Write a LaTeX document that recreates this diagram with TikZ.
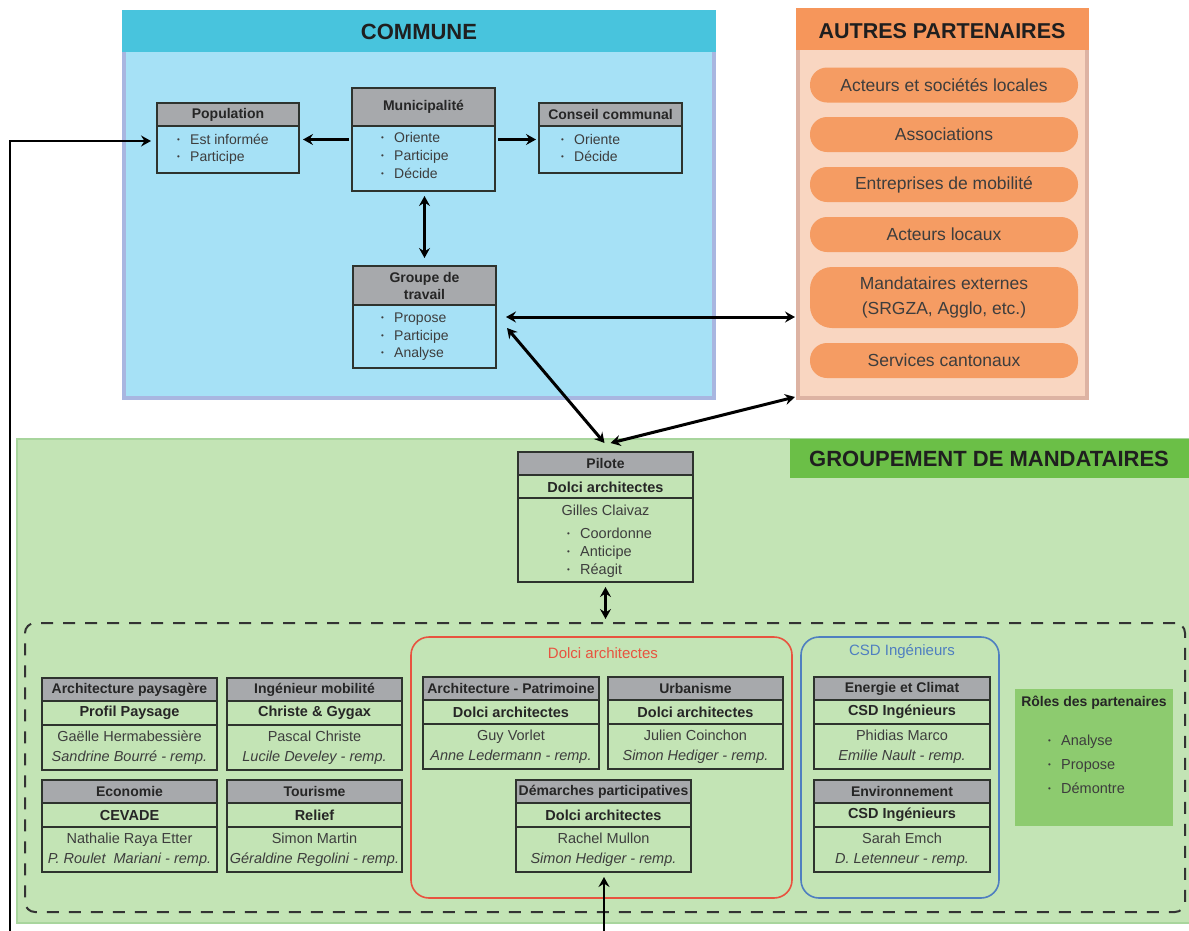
\documentclass[tikz,border=0pt]{standalone}
\usepackage{fontspec}
\setmainfont{Liberation Sans}
\usetikzlibrary{arrows.meta}
\definecolor{teal}{HTML}{48C4DD}
\definecolor{lblue}{HTML}{A6E1F6}
\definecolor{lav}{HTML}{A8B6E0}
\definecolor{orh}{HTML}{F6965B}
\definecolor{orp}{HTML}{F59C63}
\definecolor{peach}{HTML}{F9D6C1}
\definecolor{peachb}{HTML}{DDB3A3}
\definecolor{lgreen}{HTML}{C3E4B5}
\definecolor{greenb}{HTML}{A8D59D}
\definecolor{dgreen}{HTML}{6BBF47}
\definecolor{mgreen}{HTML}{8DCB6F}
\definecolor{hdrgray}{HTML}{A7A9AC}
\definecolor{txt}{HTML}{3D3D3D}
\definecolor{bline}{HTML}{2E332E}
\definecolor{redc}{HTML}{E8533F}
\definecolor{bluec}{HTML}{4F7FC0}
\newcommand{\bdot}{\makebox[13pt][l]{\raisebox{0.25ex}{\fontsize{8}{8}\selectfont\textbullet}}}
\tikzset{
  frame/.style={inner sep=0pt, outer sep=0pt},
  boxline/.style={draw=bline, line width=1.2pt},
  hdrtxt/.style={font=\fontsize{14}{17}\selectfont\bfseries, text=black!85, inner sep=0pt},
  bodytxt/.style={font=\fontsize{14.5}{20}\selectfont, text=txt, align=center, inner sep=0pt},
  bltxt/.style={font=\fontsize{14}{17}\selectfont, text=txt, inner sep=0pt, anchor=west, text height=10pt, text depth=3pt},
  pill/.style={fill=orp, rounded corners=17pt, minimum width=268pt, minimum height=35pt, inner sep=0pt, font=\fontsize{17.5}{22}\selectfont, text=txt, align=center},
  title/.style={font=\fontsize{22}{26}\selectfont\bfseries, text=black!88},
  arr/.style={line width=3pt, -{Stealth[length=10pt,width=11pt,inset=3.5pt]}},
  darr/.style={line width=3pt, {Stealth[length=10pt,width=11pt,inset=3.5pt]}-{Stealth[length=10pt,width=11pt,inset=3.5pt]}},
}
% person box: name, x, y, w, header, company, body
\newcommand{\pbox}[7]{%
  \node[frame, anchor=north west, minimum width=#4, minimum height=92] (#1) at (#2,#3) {};
  \fill[hdrgray] (#2,#3) rectangle ++(#4,23);
  \draw[boxline] (#2,#3) ++(0,23) -- ++(#4,0);
  \draw[boxline] (#2,#3) ++(0,47) -- ++(#4,0);
  \draw[boxline] (#1.north west) rectangle (#1.south east);
  \path (#2,#3) ++(#4/2,11.5) node[hdrtxt] {#5};
  \path (#2,#3) ++(#4/2,35) node[hdrtxt, font=\fontsize{14.5}{17}\selectfont\bfseries] {#6};
  \path (#2,#3) ++(#4/2,69.5) node[bodytxt] {#7};
}
% commune box: name, x, y, w, header height, height, title
\newcommand{\cbox}[7]{%
  \node[frame, anchor=north west, minimum width=#4, minimum height=#6] (#1) at (#2,#3) {};
  \fill[hdrgray] (#2,#3) rectangle ++(#4,#5);
  \draw[boxline] (#2,#3) ++(0,#5) -- ++(#4,0);
  \draw[boxline] (#1.north west) rectangle (#1.south east);
  \path (#2,#3) ++(#4/2,#5/2) node[hdrtxt, align=center] {#7};
}
\newcommand{\bitem}[4][14]{\node[bltxt, font=\fontsize{#1}{17}\selectfont] at (#2,#3) {\bdot#4};}
\begin{document}
\begin{tikzpicture}[x=1pt,y=-1pt]
\useasboundingbox (0,0) rectangle (1189,930);
\fill[white] (0,0) rectangle (1189,930);

% ---------- COMMUNE ----------
\node[frame, anchor=north west, minimum width=590, minimum height=386, fill=lblue, draw=lav, line width=4pt] (commune) at (124,12) {};
\fill[teal] (122,10) rectangle (716,52);
\node[title] (communeT) at (419,32) {COMMUNE};

\cbox{pop}{157}{103}{142}{23}{70}{Population}
\bitem{177}{141}{Est informée}
\bitem{177}{158}{Participe}

\cbox{mun}{352}{88}{143}{38}{103}{Municipalité}
\bitem{381}{139}{Oriente}
\bitem{381}{157}{Participe}
\bitem{381}{175}{Décide}

\cbox{con}{539}{103}{143}{23}{70}{Conseil communal}
\bitem{561}{141}{Oriente}
\bitem{561}{158}{Décide}

\cbox{grp}{353}{266}{143}{39}{102}{Groupe de\\travail}
\bitem{381}{319}{Propose}
\bitem{381}{337}{Participe}
\bitem{381}{354}{Analyse}

% ---------- AUTRES PARTENAIRES ----------
\node[frame, anchor=north west, minimum width=289, minimum height=388, fill=peach, draw=peachb, line width=4pt] (aut) at (798,10) {};
\fill[orh] (796,8) rectangle (1089,50);
\node[title, font=\fontsize{21.5}{26}\selectfont\bfseries] (autT) at (942,31) {AUTRES PARTENAIRES};
\node[pill] (p1) at (944,85) {Acteurs et sociétés locales};
\node[pill] (p2) at (944,134.5) {Associations};
\node[pill] (p3) at (944,184.5) {Entreprises de mobilité};
\node[pill] (p4) at (944,234.5) {Acteurs locaux};
\node[pill, minimum height=61pt, rounded corners=22pt, font=\fontsize{17.5}{25}\selectfont] (p5) at (944,297.5) {Mandataires externes\\(SRGZA, Agglo, etc.)};
\node[pill] (p6) at (944,360.5) {Services cantonaux};

% ---------- GROUPEMENT ----------
\node[frame, anchor=north west, minimum width=1174, minimum height=484, fill=lgreen, draw=greenb, line width=2pt] (grpm) at (17,439) {};
\fill[dgreen] (790,439) rectangle (1190,478);
\node[title] (grpmT) at (989,459) {GROUPEMENT DE MANDATAIRES};

% Pilote
\node[frame, anchor=north west, minimum width=175, minimum height=130] (pil) at (518,452) {};
\fill[hdrgray] (518,452) rectangle (693,475);
\draw[boxline] (518,475) -- (693,475);
\draw[boxline] (518,498) -- (693,498);
\draw[boxline] (pil.north west) rectangle (pil.south east);
\node[hdrtxt] (pilT) at (605.5,463.5) {Pilote};
\node[hdrtxt, font=\fontsize{14.5}{17}\selectfont\bfseries] (pilC) at (605.5,487) {Dolci architectes};
\node[bodytxt] (pilN) at (605.5,510) {Gilles Claivaz};
\bitem[14.5]{567}{535}{Coordonne}
\bitem[14.5]{567}{553}{Anticipe}
\bitem[14.5]{567}{571}{Réagit}

% dashed container
\node[frame, anchor=north west, minimum width=1160, minimum height=289, draw=black!80, line width=2pt, dash pattern=on 12pt off 10pt, rounded corners=10pt] (dash) at (25,623) {};

% red and blue groups
\node[frame, anchor=north west, minimum width=381, minimum height=261, draw=redc, line width=1.6pt, rounded corners=18pt] (red) at (411,637) {};
\node[text=redc, font=\fontsize{15}{18}\selectfont] (redT) at (603,653) {Dolci architectes};
\node[frame, anchor=north west, minimum width=198, minimum height=261, draw=bluec, line width=1.6pt, rounded corners=18pt] (blue) at (801,637) {};
\node[text=bluec, font=\fontsize{15}{18}\selectfont] (blueT) at (902,652) {CSD Ingénieurs};

% person boxes
\pbox{ap}{42}{678}{175}{Architecture paysagère}{Profil Paysage}{Gaëlle Hermabessière\\\textit{Sandrine Bourré - remp.}}
\pbox{im}{227}{678}{175}{Ingénieur mobilité}{Christe \& Gygax}{Pascal Christe\\\textit{Lucile Develey - remp.}}
\pbox{eco}{42}{780}{175}{Economie}{CEVADE}{Nathalie Raya Etter\\\textit{P. Roulet\ \ Mariani - remp.}}
\pbox{tou}{227}{780}{175}{Tourisme}{Relief}{Simon Martin\\\textit{Géraldine Regolini - remp.}}
\pbox{arp}{423}{677}{176}{Architecture - Patrimoine}{Dolci architectes}{Guy Vorlet\\\textit{Anne Ledermann - remp.}}
\pbox{urb}{608}{677}{175}{Urbanisme}{Dolci architectes}{Julien Coinchon\\\textit{Simon Hediger - remp.}}
\pbox{dem}{516}{780}{175}{Démarches participatives}{Dolci architectes}{Rachel Mullon\\\textit{Simon Hediger - remp.}}
\pbox{ene}{814}{677}{176}{Energie et Climat}{CSD Ingénieurs}{Phidias Marco\\\textit{Emilie Nault - remp.}}
\pbox{env}{814}{780}{176}{Environnement}{CSD Ingénieurs}{Sarah Emch\\\textit{D. Letenneur - remp.}}

% roles
\node[frame, anchor=north west, minimum width=158, minimum height=137, fill=mgreen] (roles) at (1015,689) {};
\node[hdrtxt] (rolesT) at (1094,703) {Rôles des partenaires};
\bitem[14.5]{1048}{742}{Analyse}
\bitem[14.5]{1048}{766}{Propose}
\bitem[14.5]{1048}{790}{Démontre}

% ---------- connectors ----------
\coordinate (lb) at (10,931);
\coordinate (bb) at (604,931);
\draw[arr, shorten <=3pt, shorten >=4pt] (mun.west) -- (mun.west -| pop.east);
\draw[arr, shorten <=3pt, shorten >=3pt] (mun.east) -- (mun.east -| con.west);
\draw[darr, shorten <=5pt, shorten >=8pt] (mun.south -| grp.north) -- (grp.north);
\draw[darr, shorten <=10pt, shorten >=3pt] (grp.east) -- (grp.east -| aut.west);
\draw[darr] ([xshift=11pt,yshift=-11pt]grp.east) -- ([xshift=-1pt,yshift=9pt]pil.north);
\draw[darr] ([xshift=5pt,yshift=9pt]pil.north) -- ([xshift=-3pt,yshift=1pt]aut.south west);
\draw[darr, shorten <=5pt, shorten >=4pt] (pil.south) -- (pil.south |- dash.north);
\draw[arr, line width=2.8pt, shorten >=6pt] (lb) |- ([yshift=-3pt]pop.west);
\draw[arr, line width=2.8pt, shorten >=5pt] (bb) -- (bb |- dem.south);
\end{tikzpicture}
\end{document}
